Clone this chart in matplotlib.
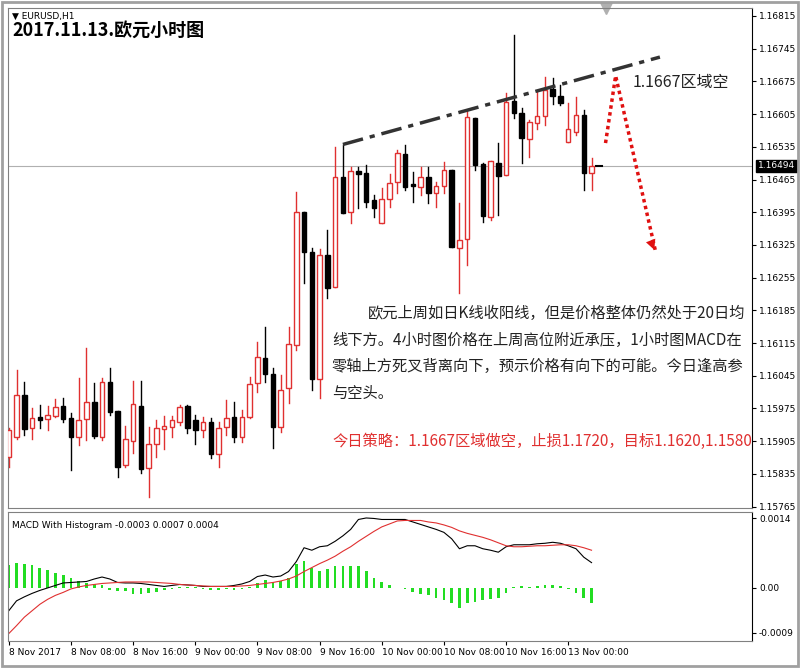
import matplotlib
matplotlib.use("Agg")
import matplotlib.pyplot as plt
import numpy as np

plt.rcParams['font.family'] = ['Noto Sans CJK SC', 'DejaVu Sans']

# OHLC in 1e-5 price units
opens = [115871,115913,116003,115933,115956,115952,115958,115980,115954,115913,
         115952,115988,115913,116031,115969,115853,115905,115980,115847,115900,
         115931,115935,115946,115980,115950,115928,115946,115877,115935,115956,
         115913,115956,116029,116083,116048,115935,116018,116110,116395,116309,
         116038,116303,116234,116470,116395,116483,116479,116421,116372,116423,
         116459,116519,116455,116449,116470,116436,116451,116485,116318,116337,
         116596,116498,116384,116500,116474,116633,116607,116551,116586,116601,
         116658,116643,116545,116566,116603,116479,116494]
highs = [115933,116057,116031,115976,115982,115980,115995,115997,115965,116040,
         116104,116029,116040,116061,115969,115937,116033,116033,115935,115950,
         115958,115958,115982,115982,115961,115956,115954,115946,115993,115988,
         115971,116042,116117,116149,116061,116046,116149,116438,116395,116318,
         116316,116357,116534,116539,116491,116491,116496,116432,116446,116476,
         116528,116539,116481,116491,116491,116459,116502,116485,116414,116613,
         116596,116500,116504,116543,116650,116774,116618,116592,116652,116684,
         116682,116667,116628,116641,116613,116511,116494]
lows = [115849,115909,115918,115909,115933,115928,115956,115946,115843,115896,
        115907,115911,115907,115961,115828,115849,115879,115836,115785,115871,
        115888,115913,115939,115922,115900,115913,115868,115849,115918,115903,
        115903,115954,116010,116031,115890,115924,115986,116100,116243,116014,
        115997,116211,116234,116393,116372,116404,116406,116384,116372,116406,
        116436,116442,116417,116432,116414,116406,116436,116320,116222,116282,
        116485,116374,116378,116389,116474,116596,116500,116513,116573,116581,
        116626,116624,116545,116560,116442,116442,116494]
closes = [115928,116003,115931,115954,115950,115961,115978,115952,115913,115950,
          115988,115916,116031,115967,115849,115909,115984,115845,115900,115933,
          115937,115950,115978,115933,115928,115946,115877,115933,115954,115913,
          115956,116027,116085,116048,115935,116014,116113,116395,116309,116038,
          116303,116232,116470,116393,116483,116476,116417,116404,116423,116457,
          116521,116449,116451,116470,116436,116451,116485,116320,116335,116598,
          116496,116387,116504,116472,116631,116607,116554,116588,116601,116656,
          116643,116628,116573,116603,116479,116494,116494]

# MACD (1e-5 units)
macd_main = [-46,-26,-18,-11,-5,0,5,10,11,12,13,18,22,18,11,10,10,9,7,5,
             3,5,7,6,5,3,3,3,3,5,8,13,23,26,22,24,33,53,81,76,
             83,85,94,105,118,138,141,140,138,138,138,138,133,128,123,118,112,99,79,85,
             85,79,76,72,83,87,87,87,89,90,92,90,85,79,62,51]
macd_signal = [-92,-76,-59,-46,-33,-23,-15,-9,-2,2,5,7,9,10,11,12,12,12,12,11,
               10,9,7,6,5,4,3,3,3,3,4,5,7,9,11,14,18,24,33,41,
               49,56,64,74,83,94,104,114,123,129,135,136,136,136,133,131,127,122,115,110,
               106,102,97,91,85,83,83,84,85,85,86,87,87,85,81,76]
macd_hist = [46,51,49,46,41,36,31,26,20,14,10,8,6,-5,-7,-7,-12,-13,-10,-8,
             -5,-2,1,1,1,-3,-5,-5,-3,-4,-2,2,10,16,12,14,20,49,54,40,
             35,38,45,45,45,45,35,20,12,5,0,-3,-8,-12,-15,-20,-24,-30,-40,-30,
             -28,-25,-22,-20,-10,2,3,2,3,5,5,3,-3,-10,-20,-30]

price_ticks = [1.16815,1.16745,1.16675,1.16605,1.16535,1.16465,1.16395,1.16325,1.16255,
               1.16185,1.16115,1.16045,1.15975,1.15905,1.15835,1.15765]
time_labels = ["8 Nov 2017","8 Nov 08:00","8 Nov 16:00","9 Nov 00:00","9 Nov 08:00",
               "9 Nov 16:00","10 Nov 00:00","10 Nov 08:00","10 Nov 16:00","13 Nov 00:00"]
time_idx = [0,8,16,24,32,40,48,56,64,72]
current_price = 1.16494
trend_x = [43, 83.8]
trend_y = [1.16540, 1.16727]
arrow_x = [76.8, 78.1, 83.2]
arrow_y = [1.16543, 1.16687, 1.16314]

o = np.array(opens)/1e5; h = np.array(highs)/1e5; l = np.array(lows)/1e5; c = np.array(closes)/1e5
n = len(o)
idx = np.arange(n)

fig = plt.figure(figsize=(8, 6.68), dpi=100)
# outer frame
fig.patches.append(plt.Rectangle((0.003, 0.003), 0.994, 0.994, transform=fig.transFigure,
                                  fill=False, edgecolor='#a0a0a0', lw=2))

ax = fig.add_axes([0.01, 0.2395, 0.93, 0.7485])
ax.set_xlim(-0.1, 95.65)
ax.set_ylim(1.15762, 1.16832)
ax.axhline(current_price, color='#b0b0b0', lw=0.8, zorder=0)
w = 0.58
for i in range(n):
    bull = c[i] > o[i]
    col = '#e03030' if bull else 'black'
    if i == n-1:
        ax.plot([i-0.4, i+0.4], [c[i], c[i]], color='black', lw=1.5)
        continue
    ax.plot([i, i], [l[i], h[i]], color=col, lw=1, zorder=2)
    bot = min(o[i], c[i]); ht = max(abs(c[i]-o[i]), 0.000015)
    ax.add_patch(plt.Rectangle((i-w/2, bot), w, ht, facecolor='white' if bull else 'black',
                               edgecolor=col, lw=1, zorder=3))
ax.plot(trend_x, trend_y, color='#333333', lw=2.5, ls=(0, (6, 2, 1.5, 2)), zorder=4)
ax.plot(arrow_x, arrow_y, color='#e01010', lw=2.5, ls=(0, (1, 1)), zorder=4)
ax.annotate('', xy=(arrow_x[2], arrow_y[2]-0.00005), xytext=(arrow_x[2]-0.35, arrow_y[2]+0.0001),
            arrowprops=dict(arrowstyle='-|>', color='#e01010', lw=0, mutation_scale=18))
ax.plot([76.9], [1.16832], marker='v', color='#b0b0b0', ms=8, clip_on=False)
ax.yaxis.tick_right()
ax.set_yticks(price_ticks)
ax.set_yticklabels([f"{t:.5f}" for t in price_ticks], fontsize=6.5, family='DejaVu Sans')
ax.tick_params(axis='y', length=3, pad=2)
ax.set_xticks([])
ax.text(1.008, current_price, f"{current_price:.5f}", transform=ax.get_yaxis_transform(),
        fontsize=6.5, color='white', va='center', ha='left', family='DejaVu Sans',
        bbox=dict(facecolor='black', edgecolor='black', pad=1.2), zorder=10, clip_on=False)
for s in ['top', 'left', 'bottom']:
    ax.spines[s].set_color('#808080')

fig.text(12/800, 1-16/668, "▼ EURUSD,H1", fontsize=6.5, va='center', family='DejaVu Sans')
fig.text(12/800, 1-30/668, "2017.11.13.欧元小时图", fontsize=13, fontweight='bold', va='center')
fig.text(633/800, 1-82/668, "1.1667区域空", fontsize=11.5, va='center', color='#222222')
lines = ["欧元上周如日K线收阳线，但是价格整体仍然处于20日均",
         "线下方。4小时图价格在上周高位附近承压，1小时图MACD在",
         "零轴上方死叉背离向下，预示价格有向下的可能。今日逢高参",
         "与空头。"]
ys = [313, 340, 366, 393]
xs = [368, 332, 332, 332]
for t, yy, xx in zip(lines, ys, xs):
    fig.text(xx/800, 1-yy/668, t, fontsize=11, va='center', color='#222222')
fig.text(332/800, 1-441/668, "今日策略：1.1667区域做空，止损1.1720，目标1.1620,1.1580",
         fontsize=11, va='center', color='#e03030')

ax2 = fig.add_axes([0.01, 0.0404, 0.93, 0.1931])
ax2.set_xlim(-0.1, 95.65)
ax2.set_ylim(-0.00107, 0.00153)
mi = np.arange(len(macd_hist))
ax2.bar(mi, np.array(macd_hist)/1e5, width=0.35, color='#22dd22')
ax2.plot(mi, np.array(macd_main)/1e5, color='black', lw=0.8)
ax2.plot(mi, np.array(macd_signal)/1e5, color='#e03030', lw=0.8)
ax2.yaxis.tick_right()
ax2.set_yticks([0.0014, 0.0, -0.0009])
ax2.set_yticklabels(["0.0014", "0.00", "-0.0009"], fontsize=6.5, family='DejaVu Sans')
ax2.tick_params(axis='y', length=3, pad=2)
ax2.set_xticks(time_idx)
ax2.set_xticklabels(time_labels, fontsize=6.5, ha='left', family='DejaVu Sans')
ax2.tick_params(axis='x', length=3, pad=2)
for s in ['top', 'left', 'bottom']:
    ax2.spines[s].set_color('#808080')
ax2.text(0.005, 0.93, "MACD With Histogram -0.0003 0.0007 0.0004", transform=ax2.transAxes,
         fontsize=6.5, va='top', family='DejaVu Sans')

fig.savefig("out.png", dpi=100)
